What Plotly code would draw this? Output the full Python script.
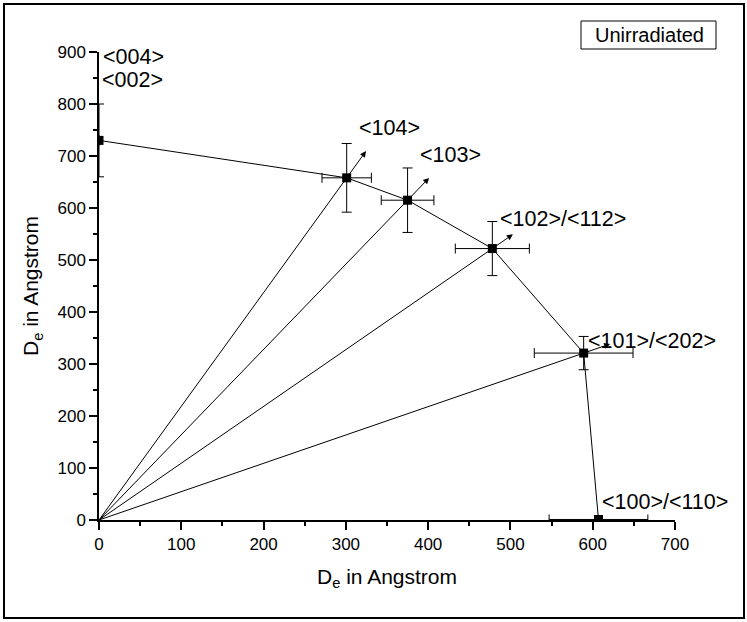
import math
import plotly.graph_objects as go

# ---- data ----
point_names = ["<004>/<002>", "<104>", "<103>", "<102>/<112>", "<101>/<202>", "<100>/<110>"]
de_x = [0, 301, 375, 478, 589, 607]
de_y = [730, 658, 615, 522, 321, 1]
err_x = [0, 30, 32, 45, 60, 60]
err_y = [70, 66, 62, 52, 32, 0]

# direction labels and where they are written (data coordinates, left edge / middle)
label_text = ["<004>", "<002>", "<104>", "<103>", "<102>/<112>", "<101>/<202>", "<100>/<110>"]
label_x = [2, 1, 314, 388, 485, 592, 609]
label_y = [890, 846, 753, 702, 579, 344, 34]

# which points get a radial line + arrow, and arrow lengths (px)
radial_idx = [1, 2, 3, 4]
arrow_len_px = [33, 31, 25, 28]

x_range = [0, 700]
y_range = [0, 900]

# ---- layout geometry (px) ----
W, H = 747, 622
ML, MR, MT, MB = 99, 72, 52, 102
PW, PH = W - ML - MR, H - MT - MB
sx = PW / (x_range[1] - x_range[0])
sy = PH / (y_range[1] - y_range[0])

FONT = "Liberation Sans, Arial, sans-serif"

fig = go.Figure()

# radial lines from origin
rx, ry = [], []
for i in radial_idx:
    rx += [0, de_x[i], None]
    ry += [0, de_y[i], None]
fig.add_trace(go.Scatter(x=rx, y=ry, mode="lines",
                         line=dict(color="black", width=1), hoverinfo="skip",
                         showlegend=False))

# connecting polyline with markers and error bars
fig.add_trace(go.Scatter(
    x=de_x, y=de_y, mode="lines+markers",
    line=dict(color="black", width=1),
    marker=dict(symbol="square", size=9, color="black"),
    error_x=dict(type="data", array=err_x, color="black", thickness=1, width=5),
    error_y=dict(type="data", array=err_y, color="black", thickness=1, width=5),
    text=point_names, showlegend=False, cliponaxis=True))

annotations = []
# arrows pointing outward along the radial direction
for k, i in enumerate(radial_idx):
    px, py = de_x[i] * sx, de_y[i] * sy
    n = math.hypot(px, py)
    L = arrow_len_px[k]
    tx = de_x[i] + (px / n) * L / sx
    ty = de_y[i] + (py / n) * L / sy
    annotations.append(dict(x=tx, y=ty, ax=de_x[i], ay=de_y[i],
                            xref="x", yref="y", axref="x", ayref="y",
                            text="", showarrow=True, arrowhead=2,
                            arrowsize=1.2, arrowwidth=1, arrowcolor="black",
                            standoff=0, startstandoff=0))

# direction labels
for t, lx, ly in zip(label_text, label_x, label_y):
    annotations.append(dict(x=lx, y=ly, xref="x", yref="y",
                            text=t.replace("<", "&lt;").replace(">", "&gt;"),
                            showarrow=False, xanchor="left", yanchor="middle",
                            font=dict(family=FONT, size=21.5, color="black")))

def paper_x(p):
    return (p - ML) / PW

def paper_y(p):
    return (H - MB - p) / PH

# "Unirradiated" box
annotations.append(dict(x=paper_x(649), y=paper_y(35), xref="paper", yref="paper",
                        text="Unirradiated", showarrow=False,
                        xanchor="center", yanchor="middle",
                        font=dict(family=FONT, size=20, color="black")))

shapes = [
    dict(type="rect", xref="paper", yref="paper",
         x0=paper_x(581), x1=paper_x(716), y0=paper_y(49), y1=paper_y(21),
         line=dict(color="black", width=1)),
    dict(type="rect", xref="paper", yref="paper",
         x0=paper_x(4), x1=paper_x(744), y0=paper_y(618), y1=paper_y(4),
         line=dict(color="black", width=2)),
]

axis_common = dict(
    showline=True, linecolor="black", linewidth=1.5,
    ticks="outside", ticklen=8, tickwidth=1.5, tickcolor="black",
    tickfont=dict(family=FONT, size=17, color="black"),
    showgrid=False, zeroline=False, dtick=100,
    minor=dict(dtick=50, ticks="outside", ticklen=4, tickwidth=1.5,
               tickcolor="black", showgrid=False),
    mirror=False,
)

fig.update_layout(
    width=W, height=H,
    margin=dict(l=ML, r=MR, t=MT, b=MB),
    paper_bgcolor="white", plot_bgcolor="white",
    font=dict(family=FONT, color="black"),
    xaxis=dict(range=x_range, title=dict(text="D<sub>e</sub> in Angstrom",
                                         font=dict(size=21), standoff=16),
               **axis_common),
    yaxis=dict(range=y_range, title=dict(text="D<sub>e</sub> in Angstrom",
                                         font=dict(size=21), standoff=13),
               **axis_common),
    annotations=annotations,
    shapes=shapes,
    showlegend=False,
)

fig.write_html("out.html")
